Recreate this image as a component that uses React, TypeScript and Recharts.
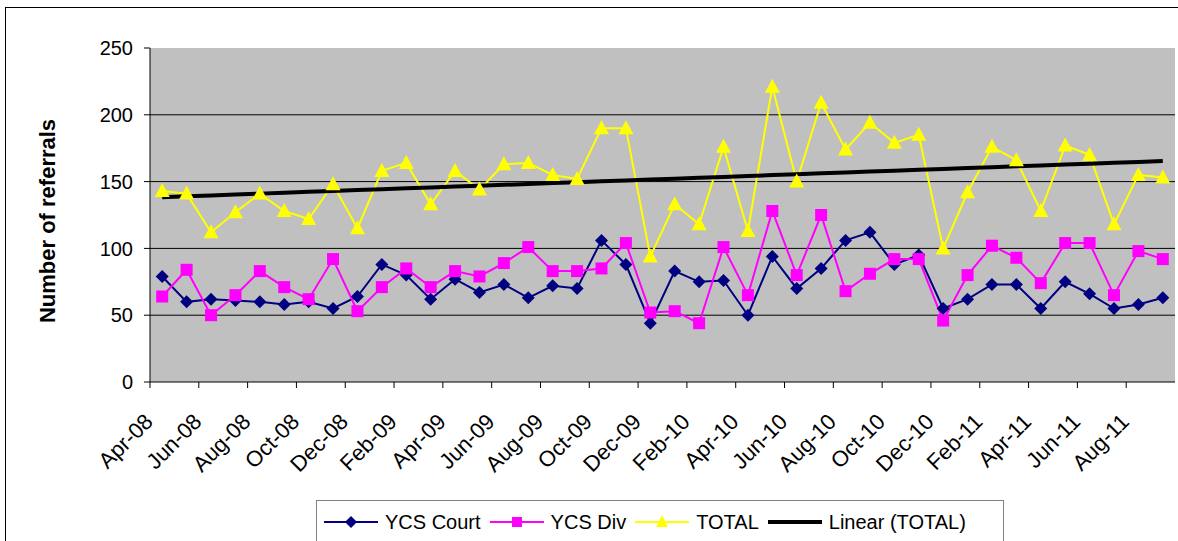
import React from "react"
import { LineChart, Line, XAxis, YAxis, CartesianGrid } from "recharts"

const months = [
  "Apr-08", "May-08", "Jun-08", "Jul-08", "Aug-08", "Sep-08", "Oct-08", "Nov-08", "Dec-08", "Jan-09",
  "Feb-09", "Mar-09", "Apr-09", "May-09", "Jun-09", "Jul-09", "Aug-09", "Sep-09", "Oct-09", "Nov-09",
  "Dec-09", "Jan-10", "Feb-10", "Mar-10", "Apr-10", "May-10", "Jun-10", "Jul-10", "Aug-10", "Sep-10",
  "Oct-10", "Nov-10", "Dec-10", "Jan-11", "Feb-11", "Mar-11", "Apr-11", "May-11", "Jun-11", "Jul-11",
  "Aug-11", "Sep-11",
]

const ycsCourt = [
  79, 60, 62, 61, 60, 58, 60, 55, 64, 88,
  80, 62, 77, 67, 73, 63, 72, 70, 106, 88,
  44, 83, 75, 76, 50, 94, 70, 85, 106, 112,
  88, 95, 55, 62, 73, 73, 55, 75, 66, 55,
  58, 63,
]

const ycsDiv = [
  64, 84, 50, 65, 83, 71, 62, 92, 53, 71,
  85, 71, 83, 79, 89, 101, 83, 83, 85, 104,
  52, 53, 44, 101, 65, 128, 80, 125, 68, 81,
  92, 92, 46, 80, 102, 93, 74, 104, 104, 65,
  98, 92,
]

const total = [
  143, 141, 112, 127, 141, 128, 122, 148, 115, 158,
  164, 133, 158, 144, 163, 164, 155, 152, 190, 190,
  94, 133, 118, 176, 113, 221, 150, 209, 174, 194,
  179, 185, 100, 142, 176, 166, 128, 177, 170, 118,
  155, 153,
]

const yTicks = [0, 50, 100, 150, 200, 250]

// least squares fit of TOTAL, like Excel's linear trendline
const n = total.length
const meanX = (n - 1) / 2
const meanY = total.reduce((a, b) => a + b, 0) / n
let sxy = 0
let sxx = 0
total.forEach((v, i) => {
  sxy += (i - meanX) * (v - meanY)
  sxx += (i - meanX) * (i - meanX)
})
const slope = sxy / sxx
const intercept = meanY - slope * meanX

const data = months.map((m, i) => ({
  month: m,
  court: ycsCourt[i],
  div: ycsDiv[i],
  total: total[i],
  trend: intercept + slope * i,
}))

const FONT = '"Liberation Sans", Arial, sans-serif'
const PLOT_W = 1025
const HALF_BAND = PLOT_W / months.length / 2

const Diamond = (props: any) => {
  const { cx, cy } = props
  if (cx == null || cy == null) return null
  const r = 6.5
  return (
    <polygon
      points={`${cx},${cy - r} ${cx + r},${cy} ${cx},${cy + r} ${cx - r},${cy}`}
      fill="#000080"
    />
  )
}

const Square = (props: any) => {
  const { cx, cy } = props
  if (cx == null || cy == null) return null
  return <rect x={cx - 6} y={cy - 6} width={12} height={12} fill="#ff00ff" />
}

const Triangle = (props: any) => {
  const { cx, cy } = props
  if (cx == null || cy == null) return null
  return (
    <polygon
      points={`${cx},${cy - 8} ${cx + 7.5},${cy + 6} ${cx - 7.5},${cy + 6}`}
      fill="#ffff00"
    />
  )
}

const MonthTick = (props: any) => {
  const { x, y, payload } = props
  const tx = x - 8
  const ty = y + 33
  return (
    <g>
      <line x1={x - HALF_BAND} y1={382} x2={x - HALF_BAND} y2={388} stroke="#000" />
      <text
        x={tx}
        y={ty}
        transform={`rotate(-45 ${tx} ${ty})`}
        textAnchor="end"
        fontSize={22}
        fontFamily={FONT}
        fill="#000"
      >
        {payload.value}
      </text>
    </g>
  )
}

const legendItems = [
  { label: "YCS Court", color: "#000080", marker: "diamond" },
  { label: "YCS Div", color: "#ff00ff", marker: "square" },
  { label: "TOTAL", color: "#ffff00", marker: "triangle" },
  { label: "Linear (TOTAL)", color: "#000", marker: "none" },
]

function LegendSymbol({ color, marker }: { color: string; marker: string }) {
  return (
    <svg width={54} height={16} style={{ display: "block" }}>
      <line x1={0} y1={8} x2={54} y2={8} stroke={color} strokeWidth={marker === "none" ? 4 : 2} />
      {marker === "diamond" && <polygon points="27,2 33,8 27,14 21,8" fill={color} />}
      {marker === "square" && <rect x={22} y={3} width={10} height={10} fill={color} />}
      {marker === "triangle" && <polygon points="27,1 33,13 21,13" fill={color} />}
    </svg>
  )
}

export default function App() {
  return (
    <div
      style={{
        position: "absolute",
        left: 0,
        top: 0,
        width: 1178,
        height: 541,
        overflow: "hidden",
        background: "#fff",
        fontFamily: FONT,
      }}
    >
      <div
        style={{
          position: "absolute",
          left: 5,
          top: 7,
          width: 1200,
          height: 600,
          border: "1px solid #000",
        }}
      />
      <div style={{ position: "absolute", left: 0, top: 0 }}>
        <LineChart width={1178} height={541} data={data} margin={{ top: 48, right: 3, bottom: 0, left: 0 }}>
          <CartesianGrid
            fill="#c0c0c0"
            vertical={false}
            horizontalValues={[50, 100, 150, 200]}
            stroke="#000"
            strokeOpacity={1}
          />
          <XAxis
            dataKey="month"
            interval={1}
            padding={{ left: HALF_BAND, right: HALF_BAND }}
            height={159}
            tickLine={false}
            axisLine={{ stroke: "#000" }}
            tick={<MonthTick />}
          />
          <XAxis
            xAxisId="top"
            orientation="top"
            dataKey="month"
            height={0}
            tick={false}
            tickLine={false}
            axisLine={{ stroke: "#808080" }}
          />
          <YAxis
            domain={[0, 250]}
            ticks={yTicks}
            width={150}
            tickSize={6}
            tickMargin={11}
            axisLine={{ stroke: "#000" }}
            tickLine={{ stroke: "#000" }}
            tick={{ fill: "#000", fontSize: 20, fontFamily: FONT }}
            label={{
              content: () => (
                <text
                  x={55}
                  y={221}
                  transform="rotate(-90 55 221)"
                  textAnchor="middle"
                  fontSize={22}
                  fontWeight="bold"
                  fontFamily={FONT}
                  fill="#000"
                >
                  Number of referrals
                </text>
              ),
            }}
          />
          <YAxis
            yAxisId="right"
            orientation="right"
            domain={[0, 250]}
            width={0}
            tick={false}
            tickLine={false}
            axisLine={{ stroke: "#808080" }}
          />
          <Line dataKey="court" stroke="#000080" strokeWidth={2} dot={<Diamond />} isAnimationActive={false} />
          <Line dataKey="div" stroke="#ff00ff" strokeWidth={2} dot={<Square />} isAnimationActive={false} />
          <Line dataKey="total" stroke="#ffff00" strokeWidth={2} dot={<Triangle />} isAnimationActive={false} />
          <Line dataKey="trend" stroke="#000" strokeWidth={4} dot={false} isAnimationActive={false} />
        </LineChart>
      </div>
      <div
        style={{
          position: "absolute",
          left: 316,
          top: 500,
          width: 688,
          height: 60,
          border: "1px solid #808080",
          background: "#fff",
          boxSizing: "border-box",
          display: "flex",
          alignItems: "flex-start",
          paddingLeft: 7,
          paddingTop: 11,
        }}
      >
        {legendItems.map((it) => (
          <div key={it.label} style={{ display: "flex", alignItems: "center", marginRight: 9 }}>
            <LegendSymbol color={it.color} marker={it.marker} />
            <span style={{ marginLeft: 7, fontSize: 20, lineHeight: "20px", color: "#000", whiteSpace: "nowrap" }}>
              {it.label}
            </span>
          </div>
        ))}
      </div>
    </div>
  )
}
